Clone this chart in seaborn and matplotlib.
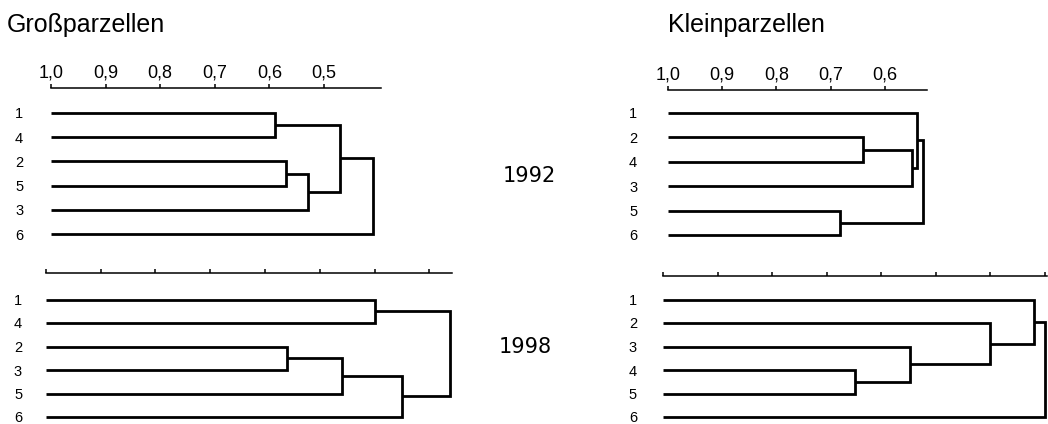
import numpy as np
import pandas as pd
import matplotlib
matplotlib.use("Agg")
import matplotlib.pyplot as plt
import seaborn as sns

# ---------------- data ----------------
# leaf order (top to bottom) and merges: (child_a, child_b, similarity)
# leaves are ids 0..5 in display order, each merge creates id 6, 7, ...
gross_1992_leaves = ["1", "4", "2", "5", "3", "6"]
gross_1992_merges = [(0, 1, 0.59), (2, 3, 0.57), (7, 4, 0.53), (6, 8, 0.47), (9, 5, 0.41)]

gross_1998_leaves = ["1", "4", "2", "3", "5", "6"]
gross_1998_merges = [(0, 1, 0.40), (2, 3, 0.56), (7, 4, 0.46), (8, 5, 0.35), (6, 9, 0.262)]

klein_1992_leaves = ["1", "2", "4", "3", "5", "6"]
klein_1992_merges = [(1, 2, 0.64), (6, 3, 0.55), (0, 7, 0.54), (4, 5, 0.683), (8, 9, 0.53)]

klein_1998_leaves = ["1", "2", "3", "4", "5", "6"]
klein_1998_merges = [(3, 4, 0.648), (2, 6, 0.547), (1, 7, 0.40), (0, 8, 0.32), (9, 5, 0.30)]

gross_ticks = [1.0, 0.9, 0.8, 0.7, 0.6, 0.5]
gross_ticklabels = ["1,0", "0,9", "0,8", "0,7", "0,6", "0,5"]
klein_ticks = [1.0, 0.9, 0.8, 0.7, 0.6]
klein_ticklabels = ["1,0", "0,9", "0,8", "0,7", "0,6"]
full_ticks = [1.0, 0.9, 0.8, 0.7, 0.6, 0.5, 0.4, 0.3]

titles = ["Großparzellen", "Kleinparzellen"]
years = ["1992", "1998"]

# ---------------- figure ----------------
W, H = 1048, 424
sns.set_style("white")
plt.rcParams["font.family"] = ["Liberation Sans", "DejaVu Sans"]
for key in ["text.color", "xtick.color", "ytick.color", "axes.labelcolor", "axes.edgecolor"]:
    plt.rcParams[key] = "black"
NARROW = ["Liberation Sans Narrow", "Liberation Sans", "DejaVu Sans"]

fig = plt.figure(figsize=(W / 100, H / 100), dpi=100)
fig.patch.set_facecolor("white")


def build_segments(merges, n_leaves):
    pos = {i: (1.0, float(i)) for i in range(n_leaves)}
    rows = []
    for k, (a, b, h) in enumerate(merges):
        xa, ya = pos[a]
        xb, yb = pos[b]
        for x, y in [(xa, ya), (h, ya), (h, yb), (xb, yb)]:
            rows.append({"x": x, "y": y, "seg": k})
        pos[n_leaves + k] = (h, (ya + yb) / 2)
    return pd.DataFrame(rows)


def panel(x0px, px_per_unit, x1px, axis_ypx, leaf0_ypx, dy, ybot_px,
          leaves, merges, ticks, ticklabels, label_pad):
    v1 = 1.0 - (x1px - x0px) / px_per_unit
    ax = fig.add_axes([x0px / W, 1 - ybot_px / H, (x1px - x0px) / W,
                       (ybot_px - axis_ypx) / H])
    df = build_segments(merges, len(leaves))
    sns.lineplot(data=df, x="x", y="y", units="seg", estimator=None, sort=False,
                 color="black", linewidth=2.0, ax=ax, clip_on=False,
                 solid_joinstyle="miter", solid_capstyle="butt")
    ax.set_xlim(1.0, v1)
    ax.set_ylim((ybot_px - leaf0_ypx) / dy, (axis_ypx - leaf0_ypx) / dy)
    ax.set_xlabel("")
    ax.set_ylabel("")
    for s in ["left", "right", "bottom"]:
        ax.spines[s].set_visible(False)
    ax.spines["top"].set_visible(True)
    ax.spines["top"].set_linewidth(1.1)
    ax.spines["top"].set_color("black")
    ax.xaxis.tick_top()
    ax.set_xticks(ticks)
    if ticklabels is None:
        ax.set_xticklabels([""] * len(ticks))
    else:
        ax.set_xticklabels(ticklabels, family=NARROW, fontsize=13)
    ax.tick_params(axis="x", direction="out", length=3, width=1.1,
                   color="black", labelcolor="black", pad=1.5, top=True, bottom=False)
    ax.set_yticks(range(len(leaves)))
    ax.set_yticklabels(leaves, family=NARROW, fontsize=10.5)
    ax.tick_params(axis="y", length=0, pad=label_pad, left=True, labelcolor="black")
    ax.set_facecolor("none")
    return ax


panel(51, 546, 381, 88, 113, 24.2, 245,
      gross_1992_leaves, gross_1992_merges, gross_ticks, gross_ticklabels, 20)
panel(45.7, 548, 452, 273, 299.5, 23.5, 424,
      gross_1998_leaves, gross_1998_merges, full_ticks, None, 17)
panel(667.7, 543, 926.7, 90, 113, 24.4, 245,
      klein_1992_leaves, klein_1992_merges, klein_ticks, klein_ticklabels, 22)
panel(663.3, 545, 1047, 276, 299.5, 23.5, 424,
      klein_1998_leaves, klein_1998_merges, full_ticks, None, 19)

fig.text(7 / W, 1 - 32.3 / H, titles[0], fontsize=18, ha="left", va="baseline",
         family=["Liberation Sans", "DejaVu Sans"], color="black")
fig.text(668 / W, 1 - 32.3 / H, titles[1], fontsize=18, ha="left", va="baseline",
         family=["Liberation Sans", "DejaVu Sans"], color="black")
fig.text(529 / W, 1 - 182.3 / H, years[0], fontsize=15, ha="center", va="baseline",
         family=["DejaVu Sans"], color="black")
fig.text(525.5 / W, 1 - 353 / H, years[1], fontsize=15, ha="center", va="baseline",
         family=["DejaVu Sans"], color="black")

fig.savefig("out.png", dpi=100, facecolor="white")
